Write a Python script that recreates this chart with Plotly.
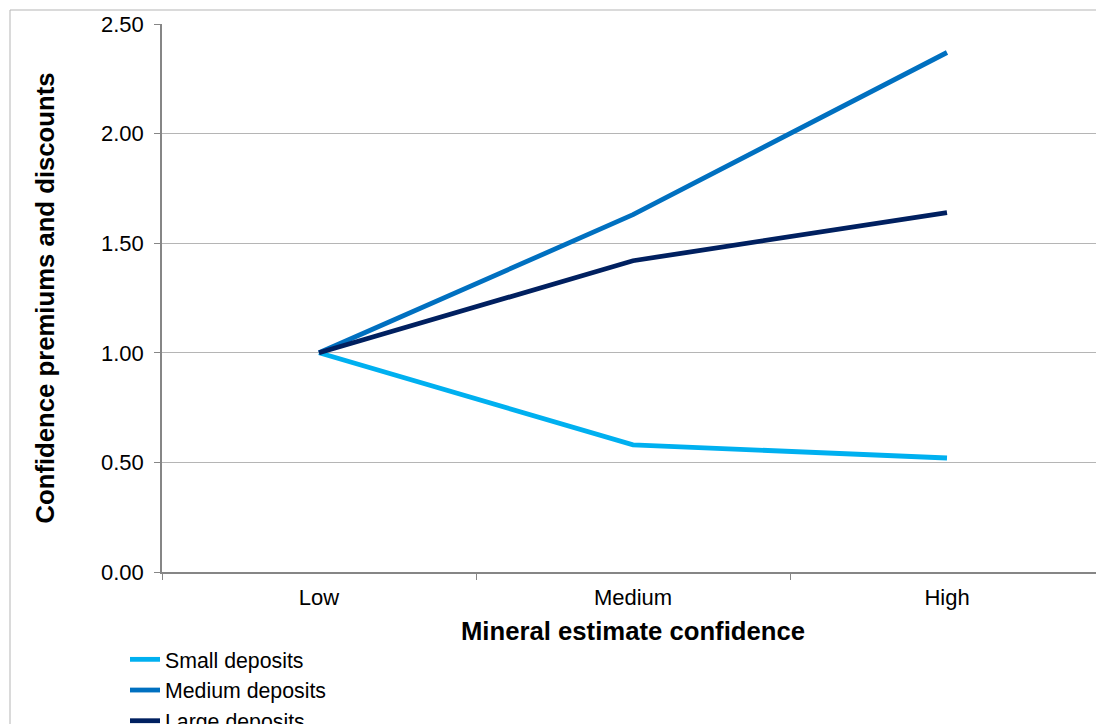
import plotly.graph_objects as go

categories = ["Low", "Medium", "High"]
small_deposits = [1.00, 0.58, 0.52]
medium_deposits = [1.00, 1.63, 2.37]
large_deposits = [1.00, 1.42, 1.64]
y_ticks = [0.0, 0.5, 1.0, 1.5, 2.0, 2.5]

FONT = "Arial, 'Liberation Sans', sans-serif"
W, H = 1120, 760
L, R, T, B = 162, 16, 24, 188

fig = go.Figure()
series = [
    ("Small deposits", small_deposits, "#00B0F0"),
    ("Medium deposits", medium_deposits, "#0070C0"),
    ("Large deposits", large_deposits, "#002060"),
]
for i, (name, vals, col) in enumerate(series):
    fig.add_trace(go.Scatter(
        x=categories, y=vals, name=name, mode="lines",
        line=dict(color=col, width=4.8),
        legendgroup=f"g{i}",
    ))

pw = W - L - R
ph = H - T - B
def px_x(p):
    return (p - L) / pw
def px_y(p):
    return (H - B - p) / ph

fig.add_shape(type="rect", xref="paper", yref="paper",
              x0=px_x(10), x1=px_x(1112), y0=px_y(740), y1=px_y(10),
              line=dict(color="#b5b5b5", width=1), fillcolor="rgba(0,0,0,0)",
              layer="below")

fig.update_layout(
    width=W, height=H,
    margin=dict(l=L, r=R, t=T, b=B, autoexpand=False),
    paper_bgcolor="white", plot_bgcolor="white",
    font=dict(family=FONT, size=22, color="black"),
    showlegend=True,
    legend=dict(x=px_x(125), y=px_y(639), xanchor="left", yanchor="top",
                font=dict(size=21.3, color="black"), tracegroupgap=0,
                bgcolor="rgba(0,0,0,0)"),
    xaxis=dict(
        type="category", range=[-0.5, 2.5], tickson="boundaries",
        ticks="outside", ticklen=6, tickcolor="#868686",
        showline=True, linecolor="#868686", linewidth=1.5,
        showgrid=False, zeroline=False, ticklabelstandoff=5,
        tickfont=dict(size=22, color="black"),
        title=dict(text="<b>Mineral estimate confidence</b>",
                   font=dict(size=25.7, color="black"), standoff=13),
    ),
    yaxis=dict(
        range=[0, 2.5], tickvals=y_ticks, tickformat=".2f",
        ticks="outside", ticklen=6, tickcolor="#868686",
        showline=True, linecolor="#868686", linewidth=1.5,
        showgrid=True, gridcolor="#b5b5b5", gridwidth=1,
        zeroline=False, ticklabelstandoff=6,
        tickfont=dict(size=22, color="black"),
        title=dict(text="<b>Confidence premiums and discounts</b>",
                   font=dict(size=25.7, color="black"), standoff=39),
    ),
)

fig.write_html("out.html", config={"displayModeBar": False}, post_script=(
    "document.body.style.margin='0';"
    "document.body.style.overflow='hidden';"
    "document.documentElement.style.overflow='hidden';"
))
